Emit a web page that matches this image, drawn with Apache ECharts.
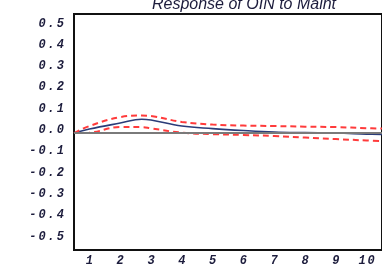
<!DOCTYPE html>
<html>
<head>
<meta charset="utf-8">
<script src="https://cdn.jsdelivr.net/npm/echarts@6/dist/echarts.min.js"></script>
<style>
  html, body { margin: 0; padding: 0; background: #fff; }
  #chart { width: 382px; height: 275px; }
</style>
</head>
<body>
<div id="chart"></div>
<script>
const periods = [0.5, 1, 2, 2.7, 3, 4, 5, 6, 7, 8, 9, 10, 10.5]
// impulse response and its +/- 2 s.e. bands
const response = [0, 0.019, 0.047, 0.065, 0.061, 0.033, 0.021, 0.012, 0.005, 0.002, 0, -0.005, -0.007]
const upperBand = [0, 0.033, 0.075, 0.082, 0.08, 0.052, 0.04, 0.035, 0.033, 0.03, 0.028, 0.023, 0.021]
const lowerBand = [0, 0.002, 0.028, 0.028, 0.022, 0.002, -0.005, -0.009, -0.014, -0.021, -0.028, -0.035, -0.038]
const xTicks = [1, 2, 3, 4, 5, 6, 7, 8, 9, 10]
const yTicks = [-0.5, -0.4, -0.3, -0.2, -0.1, 0, 0.1, 0.2, 0.3, 0.4, 0.5]

const pairs = (ys) => periods.map((x, i) => [x, ys[i]])

// wide, spaced-out glyphs like the original's axis font
const spaced = (s) => s.split('').map((ch) => '{c|' + ch + '}').join('')
const richSpaced = {
  c: {
    fontFamily: 'Liberation Mono',
    fontStyle: 'italic',
    fontWeight: 'bold',
    fontSize: 12,
    color: '#1c1c3c',
    padding: [0, 1, 0, 1],
  },
}

const chart = echarts.init(document.getElementById('chart'))

chart.setOption({
  animation: false,
  title: {
    text: 'Response of OIN to Maint',
    left: 239,
    textAlign: 'center',
    top: -8,
    textStyle: {
      fontFamily: 'Liberation Sans',
      fontStyle: 'italic',
      fontWeight: 'normal',
      fontSize: 16,
      color: '#1c1c3c',
    },
  },
  grid: {
    left: 74,
    right: -10,
    top: 14,
    bottom: 25,
    show: true,
    borderColor: '#111',
    borderWidth: 2,
  },
  xAxis: {
    type: 'value',
    min: 0.5,
    max: 10.5,
    axisLine: { show: true, lineStyle: { color: '#111', width: 2 } },
    axisTick: { show: false },
    splitLine: { show: false },
    axisLabel: {
      customValues: xTicks,
      margin: 5,
      formatter: (v) => spaced(String(v)),
      rich: richSpaced,
    },
  },
  yAxis: {
    type: 'value',
    min: -0.549,
    max: 0.559,
    axisLine: { show: true, onZero: false, lineStyle: { color: '#111', width: 2 } },
    axisTick: { show: false },
    splitLine: { show: false },
    axisLabel: {
      customValues: yTicks,
      margin: 9,
      padding: [0, 0, 6, 0],
      formatter: (v) => spaced(v.toFixed(1)),
      rich: richSpaced,
    },
  },
  series: [
    {
      name: 'zero',
      type: 'line',
      data: [],
      z: 1,
      markLine: {
        silent: true,
        symbol: 'none',
        label: { show: false },
        lineStyle: { color: '#7a7a7a', width: 2, type: 'solid' },
        data: [{ yAxis: 0 }],
      },
    },
    {
      name: 'upper',
      type: 'line',
      data: pairs(upperBand),
      smooth: 0.4,
      showSymbol: false,
      z: 3,
      lineStyle: { color: '#ff3b3b', width: 2, type: [6, 4] },
    },
    {
      name: 'lower',
      type: 'line',
      data: pairs(lowerBand),
      smooth: 0.4,
      showSymbol: false,
      z: 3,
      lineStyle: { color: '#ff3b3b', width: 2, type: [6, 4] },
    },
    {
      name: 'response',
      type: 'line',
      data: pairs(response),
      smooth: 0.4,
      showSymbol: false,
      z: 2,
      lineStyle: { color: '#2a3c78', width: 1.6 },
    },
  ],
})
</script>
</body>
</html>
